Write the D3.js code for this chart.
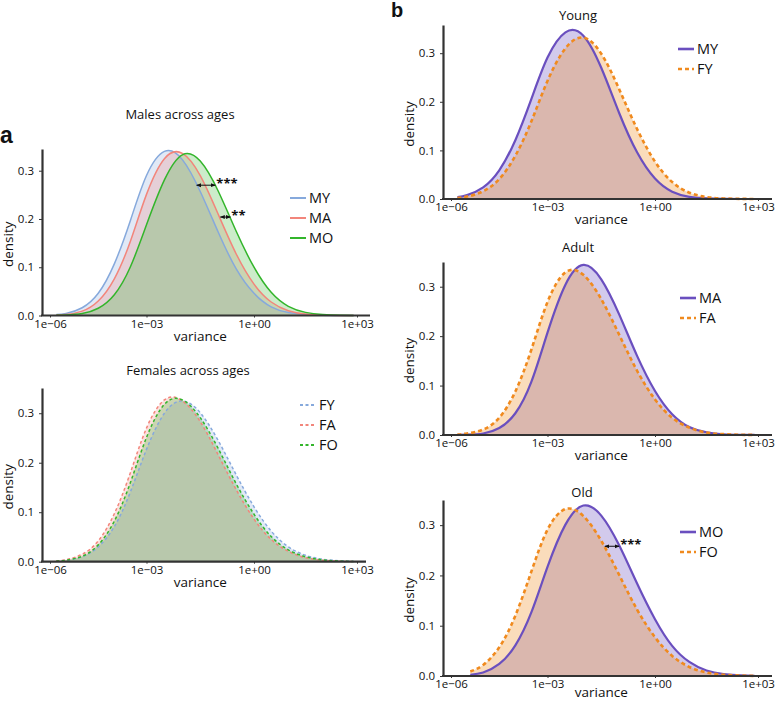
<!DOCTYPE html>
<html>
<head>
<meta charset="utf-8">
<script src="https://cdn.jsdelivr.net/npm/d3@7"></script>
<style>
  body { margin: 0; background: #fff; }
  svg { display: block; font-family: "Open Sans", sans-serif; }
</style>
</head>
<body>
<div class="chart"></div>
<script>
// log10(variance) grid the densities were read at
const logVar = [-5.8, -5.5, -5, -4.5, -4, -3.5, -3, -2.5, -2, -1.5, -1, -0.5, 0, 0.5, 1, 1.5, 2, 2.5, 2.9];
const logVarOld = [-5.4, -5, -4.5, -4, -3.5, -3, -2.5, -2, -1.5, -1, -0.5, 0, 0.5, 1, 1.5, 2, 2.5, 2.9];

const varianceTicks = [-6, -3, 0, 3];
const varianceLabels = ["1e\u221206", "1e\u221203", "1e+00", "1e+03"];
const densityTicks = [0, 0.1, 0.2, 0.3];

// a: males across ages
const maleMY = [0.002, 0.004, 0.016, 0.046, 0.107, 0.197, 0.290, 0.340, 0.323, 0.257, 0.173, 0.097, 0.046, 0.018, 0.006, 0.002, 0.0004, 0.0001, 0];
const maleMA = [0.001, 0.002, 0.009, 0.030, 0.076, 0.154, 0.251, 0.325, 0.336, 0.290, 0.210, 0.128, 0.065, 0.028, 0.010, 0.003, 0.0008, 0.0002, 0];
const maleMO = [0.0003, 0.001, 0.004, 0.015, 0.043, 0.101, 0.188, 0.281, 0.333, 0.320, 0.258, 0.175, 0.100, 0.048, 0.019, 0.0065, 0.002, 0.0004, 0.0001];

// a: females across ages
const femaleFY = [0.001, 0.003, 0.010, 0.030, 0.071, 0.141, 0.227, 0.300, 0.325, 0.301, 0.245, 0.176, 0.111, 0.062, 0.030, 0.013, 0.005, 0.0017, 0.0006];
const femaleFA = [0.0017, 0.004, 0.015, 0.042, 0.097, 0.180, 0.270, 0.327, 0.325, 0.283, 0.216, 0.146, 0.086, 0.045, 0.021, 0.008, 0.003, 0.0009, 0.0003];
const femaleFO = [0.0013, 0.003, 0.011, 0.034, 0.082, 0.160, 0.251, 0.318, 0.327, 0.291, 0.229, 0.158, 0.096, 0.051, 0.024, 0.010, 0.0037, 0.0012, 0.0004];

// b: sexes within age groups
const youngMY = [0.004, 0.008, 0.024, 0.059, 0.121, 0.206, 0.291, 0.343, 0.336, 0.270, 0.177, 0.096, 0.042, 0.015, 0.0045, 0.0011, 0.0002, 0, 0];
const youngFY = [0.0025, 0.005, 0.016, 0.041, 0.089, 0.160, 0.243, 0.310, 0.332, 0.299, 0.226, 0.144, 0.077, 0.035, 0.013, 0.004, 0.0011, 0.0003, 0.0001];
const adultMA = [0.0002, 0.0006, 0.003, 0.014, 0.044, 0.108, 0.207, 0.304, 0.344, 0.315, 0.244, 0.160, 0.089, 0.042, 0.016, 0.0055, 0.0015, 0.0004, 0.0001];
const adultFA = [0.001, 0.003, 0.011, 0.035, 0.088, 0.173, 0.269, 0.329, 0.324, 0.275, 0.203, 0.130, 0.072, 0.035, 0.015, 0.005, 0.0017, 0.0005, 0.0002];
const oldMO = [0.0025, 0.007, 0.024, 0.061, 0.127, 0.217, 0.301, 0.339, 0.319, 0.260, 0.184, 0.113, 0.060, 0.028, 0.011, 0.004, 0.0011, 0.0004];
const oldFO = [0.009, 0.022, 0.057, 0.120, 0.208, 0.291, 0.332, 0.318, 0.269, 0.201, 0.132, 0.077, 0.040, 0.018, 0.007, 0.0026, 0.0008, 0.0003];

// significance arrows (density height, log10 variance span)
const maleSig = [
  { label: "***", y: 0.27, from: -1.6, to: -1.08 },
  { label: "**", y: 0.204, from: -0.94, to: -0.66 }
];
const oldSig = [
  { label: "***", y: 0.258, from: -1.4, to: -1.0 }
];

const colors = {
  blue: "#86a9dc", red: "#f2857b", green: "#33b52b",
  purple: "#6a4fbf", orange: "#f08a1e"
};

const width = 778;
const height = 702;

const svg = d3.select(".chart")
  .append("svg")
  .attr("width", width)
  .attr("height", height);

svg.append("rect").attr("width", width).attr("height", height).attr("fill", "#fff");

const defs = svg.append("defs");
defs.append("marker")
  .attr("id", "arrowhead")
  .attr("viewBox", "0 0 10 10")
  .attr("refX", 9)
  .attr("refY", 5)
  .attr("markerWidth", 5)
  .attr("markerHeight", 5)
  .attr("orient", "auto-start-reverse")
  .append("path")
  .attr("d", "M0,1L10,5L0,9Z")
  .attr("fill", "#111");

// tick offsets from the y axis (the source figure has slightly uneven spacing)
const tickOffsets = [8, 104.5, 212, 315];

const panels = [
  {
    left: 42, right: 370, top: 149, bottom: 315.5, ymax: 0.345,
    title: "Males across ages", titleX: 180, titleY: 119,
    grid: logVar, legendX: 290, legendY: 198, legendGap: 20, legendSize: 14.5, fillOpacity: 0.25,
    series: [
      { name: "MY", values: maleMY, color: colors.blue },
      { name: "MA", values: maleMA, color: colors.red },
      { name: "MO", values: maleMO, color: colors.green }
    ],
    sig: maleSig
  },
  {
    left: 42, right: 366, top: 388, bottom: 561.7, ymax: 0.351,
    title: "Females across ages", titleX: 188, titleY: 375,
    grid: logVar, legendX: 300, legendY: 405, legendGap: 20, legendSize: 14.5, fillOpacity: 0.25,
    series: [
      { name: "FY", values: femaleFY, color: colors.blue, dash: "3,2.5" },
      { name: "FA", values: femaleFA, color: colors.red, dash: "3,2.5" },
      { name: "FO", values: femaleFO, color: colors.green, dash: "3,2.5" }
    ],
    sig: []
  },
  {
    left: 443, right: 772, top: 25, bottom: 199, ymax: 0.358,
    title: "Young", titleX: 578, titleY: 20,
    grid: logVar, legendX: 678, legendY: 49, legendGap: 20, legendSize: 14.5, fillOpacity: 0.3, thick: true,
    series: [
      { name: "MY", values: youngMY, color: colors.purple },
      { name: "FY", values: youngFY, color: colors.orange, dash: "4,3" }
    ],
    sig: []
  },
  {
    left: 443, right: 772, top: 262, bottom: 435, ymax: 0.35,
    title: "Adult", titleX: 578, titleY: 252,
    grid: logVar, legendX: 680, legendY: 298, legendGap: 20, legendSize: 14.5, fillOpacity: 0.3, thick: true,
    series: [
      { name: "MA", values: adultMA, color: colors.purple },
      { name: "FA", values: adultFA, color: colors.orange, dash: "4,3" }
    ],
    sig: []
  },
  {
    left: 443, right: 772, top: 500, bottom: 676, ymax: 0.35,
    title: "Old", titleX: 582, titleY: 497,
    grid: logVarOld, legendX: 680, legendY: 532, legendGap: 20, legendSize: 14.5, fillOpacity: 0.3, thick: true,
    series: [
      { name: "MO", values: oldMO, color: colors.purple },
      { name: "FO", values: oldFO, color: colors.orange, dash: "4,3" }
    ],
    sig: oldSig
  }
];

panels.forEach(drawPanel);

function drawPanel(p) {
  const x = d3.scaleLinear()
    .domain(varianceTicks)
    .range(tickOffsets.map(o => p.left + o));

  const y = d3.scaleLinear()
    .domain([0, p.ymax])
    .range([p.bottom, p.top]);

  const g = svg.append("g");

  const area = d3.area()
    .x((d, i) => x(p.grid[i]))
    .y0(y(0))
    .y1(d => Math.min(y(d), y(0)))
    .curve(d3.curveNatural);

  const line = d3.line()
    .x((d, i) => x(p.grid[i]))
    .y(d => y(d))
    .curve(d3.curveNatural);

  g.selectAll("path.area")
    .data(p.series)
    .join("path")
    .attr("class", "area")
    .attr("d", d => area(d.values))
    .attr("fill", d => d.color)
    .attr("fill-opacity", p.fillOpacity);

  g.selectAll("path.curve")
    .data(p.series)
    .join("path")
    .attr("class", "curve")
    .attr("d", d => line(d.values))
    .attr("fill", "none")
    .attr("stroke", d => d.color)
    .attr("stroke-width", d => p.thick ? (d.dash ? 2.6 : 2.2) : 1.5)
    .attr("stroke-dasharray", d => d.dash || null);

  // significance arrows
  p.sig.forEach(s => {
    g.append("line")
      .attr("x1", x(s.from))
      .attr("x2", x(s.to))
      .attr("y1", y(s.y))
      .attr("y2", y(s.y))
      .attr("stroke", "#111")
      .attr("stroke-width", 1)
      .attr("marker-start", "url(#arrowhead)")
      .attr("marker-end", "url(#arrowhead)");
    g.append("text")
      .attr("x", x(s.to) + 1)
      .attr("y", y(s.y) + 3)
      .attr("font-size", 13)
      .attr("font-weight", "bold")
      .attr("fill", "#111")
      .text(s.label);
  });

  // axes
  const yAxis = g.append("g")
    .attr("transform", `translate(${p.left},0)`)
    .call(d3.axisLeft(y)
      .tickValues(densityTicks)
      .tickFormat(d3.format(".1f"))
      .tickSize(3)
      .tickSizeOuter(0)
      .tickPadding(5));

  const xAxis = g.append("g")
    .attr("transform", `translate(0,${p.bottom})`)
    .call(d3.axisBottom(x)
      .tickValues(varianceTicks)
      .tickFormat((d, i) => varianceLabels[i])
      .tickSize(2)
      .tickSizeOuter(0)
      .tickPadding(2));

  xAxis.select(".domain").remove();
  g.append("line")
    .attr("x1", p.left - 1)
    .attr("x2", p.right)
    .attr("y1", p.bottom)
    .attr("y2", p.bottom)
    .attr("stroke", "#333")
    .attr("stroke-width", 2.2);

  yAxis.select(".domain").attr("stroke", "#333").attr("stroke-width", 2.2);
  [yAxis, xAxis].forEach(a => {
    a.selectAll(".tick line").attr("stroke", "#333");
    a.selectAll(".tick text")
      .attr("font-size", 11.5)
      .attr("font-family", "'Open Sans', sans-serif")
      .attr("fill", "#111");
  });

  // labels
  g.append("text")
    .attr("x", p.titleX)
    .attr("y", p.titleY)
    .attr("text-anchor", "middle")
    .attr("font-size", 13)
    .attr("fill", "#111")
    .text(p.title);

  g.append("text")
    .attr("x", (x(varianceTicks[1]) + x(varianceTicks[2])) / 2)
    .attr("y", Math.min(p.bottom + 25, height - 5))
    .attr("text-anchor", "middle")
    .attr("font-size", 13.5)
    .attr("fill", "#111")
    .text("variance");

  g.append("text")
    .attr("transform", `translate(${p.left - 29},${(p.top + p.bottom) / 2 + 12}) rotate(-90)`)
    .attr("text-anchor", "middle")
    .attr("font-size", 13.5)
    .attr("fill", "#111")
    .text("density");

  // legend
  const legend = g.selectAll("g.legend")
    .data(p.series)
    .join("g")
    .attr("class", "legend")
    .attr("transform", (d, i) => `translate(${p.legendX},${p.legendY + i * p.legendGap})`);

  legend.append("line")
    .attr("x1", 0)
    .attr("x2", 16)
    .attr("stroke", d => d.color)
    .attr("stroke-width", d => p.thick ? 2.6 : 2)
    .attr("stroke-dasharray", d => d.dash || null);

  legend.append("text")
    .attr("x", 19)
    .attr("dy", "0.36em")
    .attr("font-size", p.legendSize)
    .attr("fill", "#111")
    .text(d => d.name);
}

// panel letters
svg.append("text")
  .attr("x", 0)
  .attr("y", 143)
  .attr("font-family", "'Liberation Sans', Arial, sans-serif")
  .attr("font-weight", "bold")
  .attr("font-size", 23)
  .attr("fill", "#111")
  .text("a");

svg.append("text")
  .attr("x", 391)
  .attr("y", 17)
  .attr("font-family", "'Liberation Sans', Arial, sans-serif")
  .attr("font-weight", "bold")
  .attr("font-size", 20)
  .attr("fill", "#111")
  .text("b");
</script>
</body>
</html>
